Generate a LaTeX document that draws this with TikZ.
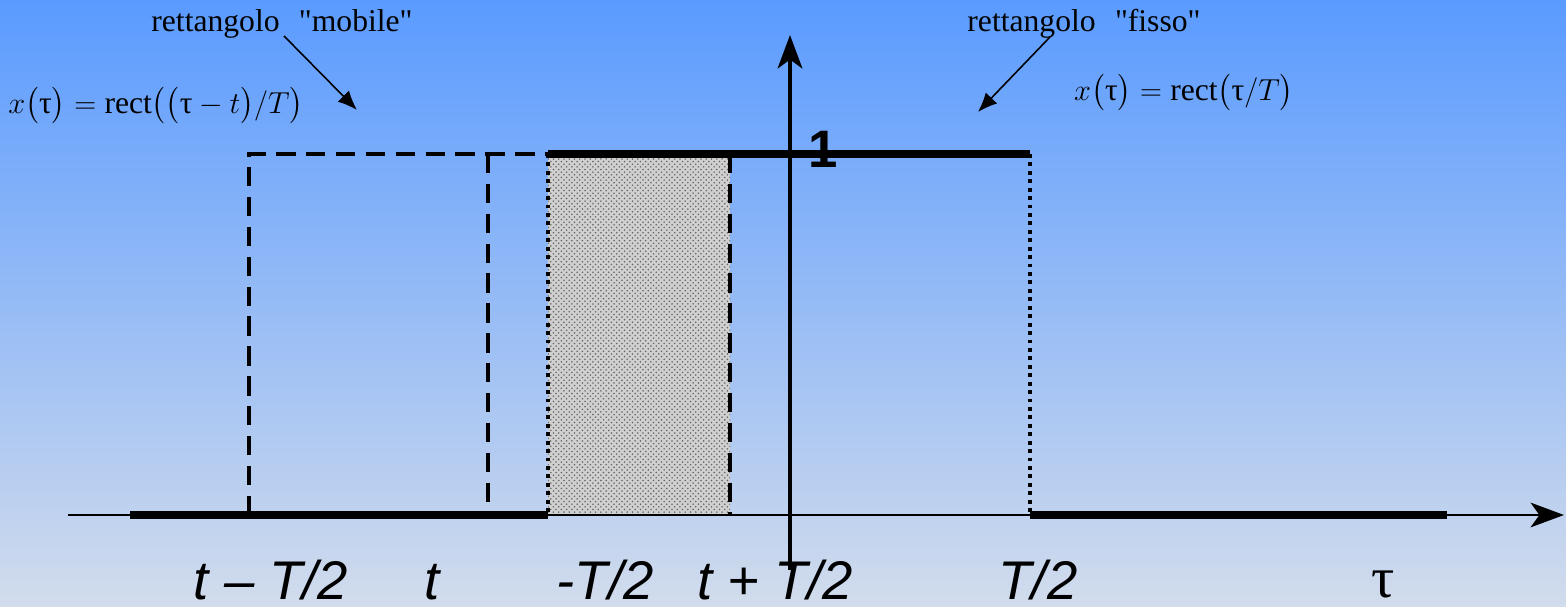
\documentclass[tikz,border=0pt]{standalone}
\usepackage{amsmath}
\usepackage{fontspec}
\setmainfont{Liberation Serif}
\setsansfont{Liberation Sans}
\usetikzlibrary{arrows.meta,patterns}
\definecolor{skytop}{RGB}{90,155,255}
\definecolor{skymid}{RGB}{128,184,250}
\definecolor{skybot}{RGB}{210,220,236}
\definecolor{areagray}{RGB}{208,208,208}

\begin{document}
\begin{tikzpicture}[
        x=0.02cm,y=-0.02cm,
        axis/.style={-{Stealth[length=19pt,width=14pt,inset=5pt]}},
        thickline/.style={line width=5pt},
        mobileline/.style={line width=2pt,dash pattern=on 11pt off 6pt},
        fixedline/.style={line width=2.6pt,dash pattern=on 2.2pt off 2.6pt},
        note/.style={-{Latex[length=11pt,width=9pt]},line width=0.9pt},
        notetext/.style={font=\fontsize{18}{20}\selectfont,inner sep=0pt,anchor=base},
        ticklabel/.style={font=\sffamily\itshape\fontsize{31}{33}\selectfont,inner sep=0pt,anchor=base}
      ]
        % background
        \shade[top color=skytop,middle color=skymid,bottom color=skybot] (0,0) rectangle (1566,607);
        \useasboundingbox (0,0) rectangle (1566,607);

        % overlap of the two rectangles
        \fill[areagray] (548,154) rectangle (730,515);
        \fill[pattern=crosshatch dots,pattern color=gray!80!black] (548,154) rectangle (730,515);

        % axes
        \coordinate (xstart) at (68,515);
        \coordinate (xend) at (1564,515);
        \coordinate (ystart) at (790,570);
        \coordinate (yend) at (790,35);
        \draw[axis,line width=1.7pt] (xstart) -- (xend);
        \draw[axis,line width=2.3pt] (ystart) -- (yend);

        % moving rectangle
        \draw[mobileline] (249,515) -- (249,154) -- (548,154);
        \draw[mobileline] (488,154) -- (488,515);
        \draw[mobileline] (730,154) -- (730,515);

        % fixed rectangle
        \draw[fixedline] (548,154) -- (548,515);
        \draw[fixedline] (1030,154) -- (1030,515);

        % signal levels
        \draw[thickline] (130,515) -- (548,515);
        \draw[thickline] (548,154) -- (1030,154);
        \draw[thickline] (1030,515) -- (1447,515);

        \node[font=\sffamily\bfseries\fontsize{30}{32}\selectfont,inner sep=0pt,anchor=base]
          (one) at (823,168) {1};

        % abscissa labels
        \node[ticklabel] (tminus) at (271,600) {t -- T/2};
        \node[ticklabel] (tcentre) at (432,600) {t};
        \node[ticklabel] (mhalf) at (605,600) {-T/2};
        \node[ticklabel] (tplus) at (775,600) {t + T/2};
        \node[ticklabel] (phalf) at (1038,600) {T/2};
        \node[font=\fontsize{33}{35}\selectfont,inner sep=0pt,anchor=base]
          (tau) at (1383,598) {τ};

        % annotations
        \node[notetext] (mobile) at (282,32) {rettangolo\hspace{11pt}\textquotedbl mobile\textquotedbl};
        \node[notetext] (fisso) at (1084,32) {rettangolo\hspace{11pt}\textquotedbl fisso\textquotedbl};
        \coordinate (mobfrom) at (284,36);
        \coordinate (mobto) at (357,110);
        \coordinate (fisfrom) at (1050,37);
        \coordinate (fisto) at (978,112);
        \draw[note] (mobfrom) -- (mobto);
        \draw[note] (fisfrom) -- (fisto);

        \node[font=\fontsize{18}{20}\selectfont,inner sep=0pt] (xmobile) at (156,106)
          {$x\bigl(\text{τ}\bigr) = \text{rect}\bigl(\bigl(\text{τ}-t\bigr)/T\bigr)$};
        \node[font=\fontsize{18}{20}\selectfont,inner sep=0pt] (xfisso) at (1184,93)
          {$x\bigl(\text{τ}\bigr) = \text{rect}\bigl(\text{τ}/T\bigr)$};
      \end{tikzpicture}
\end{document}
